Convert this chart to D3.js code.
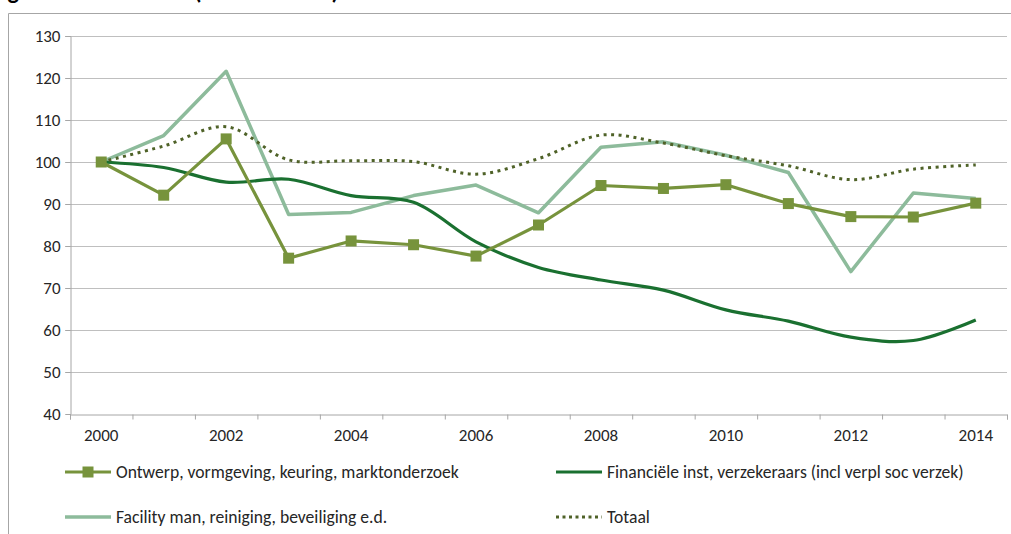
<!DOCTYPE html>
<html>
<head>
<meta charset="utf-8">
<script src="https://cdn.jsdelivr.net/npm/d3@7"></script>
<style>
  html, body { margin: 0; padding: 0; background: #fff; }
  svg { display: block; }
  text { font-family: Carlito, Calibri, "Open Sans", sans-serif; }
</style>
</head>
<body>
<svg id="chart" width="1011" height="534"></svg>
<script>
// ---- data ----
const years = ["2000","2001","2002","2003","2004","2005","2006","2007","2008","2009","2010","2011","2012","2013","2014"];
const xTickLabels = ["2000","2002","2004","2006","2008","2010","2012","2014"];
const yTicks = [40,50,60,70,80,90,100,110,120,130];
const ontwerp   = [100, 92.1, 105.5, 77.1, 81.2, 80.3, 77.6, 85.0, 94.4, 93.7, 94.6, 90.1, 87.0, 86.9, 90.2];
const financieel= [100, 98.7, 95.2, 95.9, 92.0, 90.4, 81.0, 74.9, 71.9, 69.5, 64.8, 62.1, 58.3, 57.5, 62.4];
const facility  = [100, 106.3, 121.6, 87.5, 88.0, 92.0, 94.5, 87.9, 103.5, 104.8, 101.6, 97.5, 73.9, 92.6, 91.3];
const totaal    = [100, 103.8, 108.4, 100.5, 100.3, 100.1, 97.1, 100.8, 106.4, 104.5, 101.5, 99.1, 95.8, 98.3, 99.3];
const seriesNames = ["Ontwerp, vormgeving, keuring, marktonderzoek",
                     "Financiële inst, verzekeraars (incl verpl soc verzek)",
                     "Facility man, reiniging, beveiliging e.d.",
                     "Totaal"];

const svg = d3.select("#chart");
const pLeft = 70, pRight = 1007, pTop = 36, pBottom = 414;
const FS = 17, LFS = 17.6;

// partially visible title (cut off at top, as in the reference)
const titleG = svg.append("g").attr("font-size", 24).attr("font-weight", "bold").attr("fill", "#000");
titleG.append("text").attr("x", 19).attr("y", -1).attr("text-anchor", "end").text("Figuur 2: Ontwikkeling");
titleG.append("text").attr("x", 25).attr("y", -1).text("dienstensectoren");
titleG.append("text").attr("x", 194).attr("y", -1).attr("letter-spacing", 2).text("(2000 = 100)");

// frame
svg.append("path").attr("d", `M8.5,534V13.5H1011`).attr("fill", "none")
  .attr("stroke", "#a6a6a6").attr("stroke-width", 1);

const x = d3.scaleBand().domain(years).range([pLeft, pRight]).padding(0);
const xLin = d3.scaleLinear().domain([0, years.length]).range([pLeft, pRight]);
const y = d3.scaleLinear().domain([40, 130]).range([pBottom, pTop]);

// gridlines
svg.append("g").selectAll("line").data(yTicks.filter(d => d > 40)).join("line")
  .attr("x1", pLeft - 5).attr("x2", pRight)
  .attr("y1", d => Math.round(y(d)) + 0.5).attr("y2", d => Math.round(y(d)) + 0.5)
  .attr("stroke", "#bfbfbf").attr("stroke-width", 1);

// y axis
const yAxis = svg.append("g").attr("transform", `translate(${pLeft + 0.5},0)`)
  .call(d3.axisLeft(y).tickValues(yTicks).tickSize(5).tickPadding(5).tickFormat(d3.format("d")));
yAxis.select(".domain").attr("stroke", "#a6a6a6");
yAxis.selectAll(".tick line").attr("stroke", "#a6a6a6");
yAxis.selectAll("text").attr("font-size", FS).attr("fill", "#262626")
  .attr("font-family", "Carlito, Calibri, 'Open Sans', sans-serif");

// x axis: ticks between categories
const xAxis = svg.append("g").attr("transform", `translate(0,${Math.round(pBottom) + 0.5})`)
  .call(d3.axisBottom(xLin).tickValues(d3.range(years.length + 1)).tickSize(5).tickFormat(""));
xAxis.select(".domain").attr("stroke", "#a6a6a6");
xAxis.selectAll(".tick line").attr("stroke", "#a6a6a6");

const xLab = svg.append("g").attr("transform", `translate(0,${pBottom})`)
  .call(d3.axisBottom(x).tickValues(xTickLabels).tickSize(0).tickPadding(15));
xLab.select(".domain").remove();
xLab.selectAll("text").attr("font-size", FS).attr("fill", "#262626")
  .attr("font-family", "Carlito, Calibri, 'Open Sans', sans-serif");

const cx = (d, i) => x(years[i]) + x.bandwidth() / 2;
const lineLin = d3.line().x(cx).y(d => y(d));
const lineSmooth = d3.line().x(cx).y(d => y(d)).curve(d3.curveCatmullRom.alpha(0.5));

const cOntwerp = "#77933c", cFin = "#1a7030", cFac = "#8dbb9b", cTot = "#4f6228";

svg.append("path").datum(facility).attr("d", lineLin).attr("fill", "none")
  .attr("stroke", cFac).attr("stroke-width", 3.5).attr("stroke-linejoin", "round");
svg.append("path").datum(financieel).attr("d", lineSmooth).attr("fill", "none")
  .attr("stroke", cFin).attr("stroke-width", 3.2).attr("stroke-linejoin", "round");
svg.append("path").datum(totaal).attr("d", lineSmooth).attr("fill", "none")
  .attr("stroke", cTot).attr("stroke-width", 3).attr("stroke-dasharray", "3,4.5");
svg.append("path").datum(ontwerp).attr("d", lineLin).attr("fill", "none")
  .attr("stroke", cOntwerp).attr("stroke-width", 3.2).attr("stroke-linejoin", "round");
svg.append("g").selectAll("rect").data(ontwerp).join("rect")
  .attr("x", (d, i) => cx(d, i) - 5.5).attr("y", d => y(d) - 5.5)
  .attr("width", 11).attr("height", 11).attr("fill", cOntwerp);

// legend
const legend = [
  {name: seriesNames[0], color: cOntwerp, x: 65, y: 472, marker: true, dash: null, w: 3.2},
  {name: seriesNames[1], color: cFin, x: 556, y: 472, marker: false, dash: null, w: 3.2},
  {name: seriesNames[2], color: cFac, x: 65, y: 517, marker: false, dash: null, w: 3.5},
  {name: seriesNames[3], color: cTot, x: 556, y: 517, marker: false, dash: "3,3.5", w: 3}
];
const lg = svg.append("g").selectAll("g").data(legend).join("g");
lg.append("line").attr("x1", d => d.x).attr("x2", d => d.x + 46)
  .attr("y1", d => d.y).attr("y2", d => d.y)
  .attr("stroke", d => d.color).attr("stroke-width", d => d.w)
  .attr("stroke-dasharray", d => d.dash);
lg.filter(d => d.marker).append("rect")
  .attr("x", d => d.x + 23 - 5.5).attr("y", d => d.y - 5.5).attr("width", 11).attr("height", 11)
  .attr("fill", d => d.color);
lg.append("text").attr("x", d => d.x + 51).attr("y", d => d.y + 6)
  .attr("font-size", LFS).attr("fill", "#262626").text(d => d.name);
</script>
</body>
</html>
